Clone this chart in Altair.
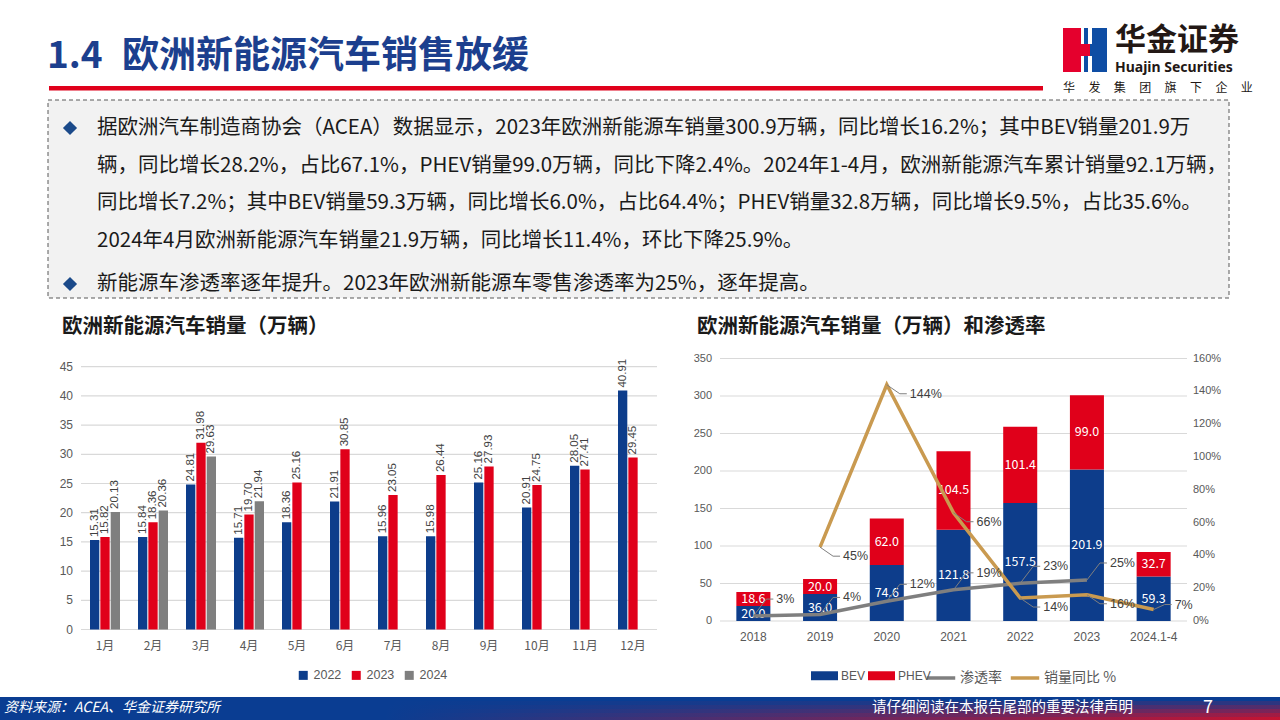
import altair as alt
import pandas as pd

FONT = "Noto Sans CJK SC"
NUMFONT = "Liberation Sans, Noto Sans CJK SC"

# ---------------- data: left chart (monthly sales, 万辆) ----------------
months = ["1月", "2月", "3月", "4月", "5月", "6月", "7月", "8月", "9月", "10月", "11月", "12月"]
sales_2022 = [15.31, 15.84, 24.81, 15.71, 18.36, 21.91, 15.96, 15.98, 25.16, 20.91, 28.05, 40.91]
sales_2023 = [15.82, 18.36, 31.98, 19.70, 25.16, 30.85, 23.05, 26.44, 27.93, 24.75, 27.41, 29.45]
sales_2024 = [20.13, 20.36, 29.63, 21.94]
series_years = ["2022", "2023", "2024"]
left_ticks = [0, 5, 10, 15, 20, 25, 30, 35, 40, 45]

# ---------------- data: right chart (annual sales + rates) ----------------
years = ["2018", "2019", "2020", "2021", "2022", "2023", "2024.1-4"]
bev = [20.0, 36.0, 74.6, 121.8, 157.5, 201.9, 59.3]
phev = [18.6, 20.0, 62.0, 104.5, 101.4, 99.0, 32.7]
pen_years = ["2018", "2019", "2020", "2021", "2022", "2023"]
penetration = [3, 4, 12, 19, 23, 25]
yoy_years = ["2019", "2020", "2021", "2022", "2023", "2024.1-4"]
yoy = [45, 144, 66, 14, 16, 7]
right_ticks = [0, 50, 100, 150, 200, 250, 300, 350]
pct_ticks = [0, 20, 40, 60, 80, 100, 120, 140, 160]

# ---------------- text ----------------
title_num = "1.4"
title_txt = "欧洲新能源汽车销售放缓"
body_lines = [
    "据欧洲汽车制造商协会（ACEA）数据显示，2023年欧洲新能源车销量300.9万辆，同比增长16.2%；其中BEV销量201.9万",
    "辆，同比增长28.2%，占比67.1%，PHEV销量99.0万辆，同比下降2.4%。2024年1-4月，欧洲新能源汽车累计销量92.1万辆，",
    "同比增长7.2%；其中BEV销量59.3万辆，同比增长6.0%，占比64.4%；PHEV销量32.8万辆，同比增长9.5%，占比35.6%。",
    "2024年4月欧洲新能源汽车销量21.9万辆，同比增长11.4%，环比下降25.9%。",
    "新能源车渗透率逐年提升。2023年欧洲新能源车零售渗透率为25%，逐年提高。",
]
left_title = "欧洲新能源汽车销量（万辆）"
right_title = "欧洲新能源汽车销量（万辆）和渗透率"
source_txt = "资料来源：ACEA、华金证券研究所"
notice_txt = "请仔细阅读在本报告尾部的重要法律声明"
page_no = "7"
slogan_chars = ["华", "发", "集", "团", "旗", "下", "企", "业"]

# ---------------- colours ----------------
BLUE = "#0D3D8B"
RED = "#E0001A"
GRAY = "#7F7F7F"
GOLD = "#C99A50"
GRID = "#D9D9D9"
AXTXT = "#595959"
TITLE_BLUE = "#1C3F8E"


def blank():
    return alt.Chart(alt.Data(values=[{"k": 0}]))


def text_at(s, x, y, size, color="#1A1A1A", weight="normal", align="left", style="normal", font=FONT):
    return blank().mark_text(
        text=s, fontSize=size, fontWeight=weight, align=align, baseline="middle",
        color=color, font=font, fontStyle=style
    ).encode(x=alt.value(x), y=alt.value(y))


def rect_at(x1, x2, y1, y2, **kw):
    return blank().mark_rect(**kw).encode(
        x=alt.value(x1), x2=alt.value(x2), y=alt.value(y1), y2=alt.value(y2)
    )


decor = []
# header
decor.append(text_at(title_num, 47, 57, 37, TITLE_BLUE, "bold"))
decor.append(text_at(title_txt, 122, 57, 37, TITLE_BLUE, "bold"))
decor.append(rect_at(49, 1043, 86, 90.5, fill="#E0001B"))
# logo
decor.append(rect_at(1063, 1081, 28, 72, fill="#E5002D"))
decor.append(rect_at(1084, 1107, 28, 72, fill="#0E4DA4"))
decor.append(rect_at(1079, 1090, 44, 56, fill="#E5002D"))
decor.append(rect_at(1088, 1092, 28, 44, fill="white"))
decor.append(rect_at(1088, 1092, 56, 72, fill="white"))
decor.append(text_at("华金证券", 1115, 41, 31, "#231815", "bold"))
decor.append(text_at("Huajin Securities", 1115, 68, 14, "#231815", "bold", font="Noto Sans"))
for i, ch in enumerate(slogan_chars):
    decor.append(text_at(ch, 1069 + 25.4 * i, 88, 12, "#231815", align="center"))
# summary box
decor.append(rect_at(48, 1229, 100, 298, fill="#F2F2F2", stroke="#595959",
                     strokeDash=[4, 3], strokeWidth=1))
line_y = [128, 166, 203, 241, 284]
for s, y in zip(body_lines, line_y):
    decor.append(text_at(s, 97, y, 20.5, "#1A1A1A"))
for y in (128, 284):
    decor.append(blank().mark_point(shape="diamond", filled=True, size=200, color="#1B4A8A",
                                     opacity=1).encode(x=alt.value(70), y=alt.value(y)))
# chart titles
decor.append(text_at(left_title, 62, 327, 20.5, "#1A1A1A", "bold"))
decor.append(text_at(right_title, 697, 327, 20.5, "#1A1A1A", "bold"))
# footer
decor.append(rect_at(0, 1280, 697, 720, fill="#0A3D92"))
strip_edges = [697, 701, 705, 709, 713, 717, 720]
strip_alpha = [0.0, 0.18, 0.38, 0.58, 0.78, 0.95]
for (y1, y2), a in zip(zip(strip_edges[:-1], strip_edges[1:]), strip_alpha):
    if a == 0:
        continue
    grad = alt.LinearGradient(
        gradient="linear", x1=0, x2=1, y1=0, y2=0,
        stops=[alt.GradientStop(color="rgba(205,18,45,0)", offset=0),
               alt.GradientStop(color="rgba(205,18,45,0)", offset=0.3),
               alt.GradientStop(color=f"rgba(205,18,45,{a})", offset=1)])
    decor.append(rect_at(0, 1280, y1, y2, color=grad))
decor.append(text_at(source_txt, 4, 708, 14, "white", style="italic"))
decor.append(text_at(notice_txt, 872, 708, 14.5, "white"))
decor.append(text_at(page_no, 1203, 708, 18, "white"))

# ---------------- left chart ----------------
left_rows = []
for yr, vals in zip(series_years, [sales_2022, sales_2023, sales_2024]):
    for m, v in zip(months, vals):
        left_rows.append({"month": m, "year": yr, "value": v})
left_df = pd.DataFrame(left_rows)

month_scale = alt.Scale(domain=months, range=[81, 657], paddingInner=0.375, paddingOuter=0.1875)
left_y = alt.Scale(domain=[0, 45], range=[629.5, 366.7], nice=False, zero=True)
off_scale = alt.Scale(domain=series_years, paddingInner=0.1, paddingOuter=0)
year_colors = alt.Scale(domain=series_years, range=[BLUE, RED, GRAY])

left_grid = alt.Chart(pd.DataFrame({"tick": left_ticks})).mark_rule(
    color=GRID, strokeWidth=1.2
).encode(
    y=alt.Y("tick:Q", scale=left_y, axis=None),
    x=alt.value(81), x2=alt.value(657),
)
left_ylabels = alt.Chart(pd.DataFrame({"tick": left_ticks})).mark_text(
    align="right", baseline="middle", fontSize=12, color=AXTXT, font=NUMFONT
).encode(
    y=alt.Y("tick:Q", scale=left_y, axis=None),
    x=alt.value(73),
    text="tick:Q",
)
left_xlabels = alt.Chart(pd.DataFrame({"month": months})).mark_text(
    align="center", baseline="middle", fontSize=12, color=AXTXT, font=FONT
).encode(
    x=alt.X("month:N", scale=month_scale, sort=None, axis=None),
    y=alt.value(646),
    text="month:N",
)

left_bars = alt.Chart(left_df).mark_bar().encode(
    x=alt.X("month:N", scale=month_scale, sort=None, axis=None),
    xOffset=alt.XOffset("year:N", scale=off_scale, sort=None),
    y=alt.Y("value:Q", scale=left_y, axis=None),
    color=alt.Color("year:N", scale=year_colors, sort=None,
                    legend=alt.Legend(orient="none", legendX=297, legendY=669, direction="horizontal",
                                      title=None, symbolType="square", symbolSize=81,
                                      symbolStrokeWidth=0, labelFont=NUMFONT, labelFontSize=12.5,
                                      labelColor=AXTXT, labelOffset=4, columnPadding=8, padding=0)),
)

left_labels = alt.Chart(left_df).mark_text(
    angle=270, align="left", baseline="middle", dx=3, fontSize=11.5, color="#404040", font=NUMFONT
).encode(
    x=alt.X("month:N", scale=month_scale, sort=None, axis=None),
    xOffset=alt.XOffset("year:N", scale=off_scale, sort=None),
    y=alt.Y("value:Q", scale=left_y, axis=None),
    text=alt.Text("value:Q", format=".2f"),
)

left_layer = alt.layer(left_grid, left_ylabels, left_xlabels, left_bars, left_labels)

# ---------------- right chart ----------------
bar_rows = []
for t, vals in (("BEV", bev), ("PHEV", phev)):
    for yv, v in zip(years, vals):
        bar_rows.append({"year": yv, "type": t, "value": v})
bar_df = pd.DataFrame(bar_rows)

line_rows = []
for yv, v in zip(pen_years, penetration):
    line_rows.append({"year": yv, "series": "渗透率", "value": v})
for yv, v in zip(yoy_years, yoy):
    line_rows.append({"year": yv, "series": "销量同比 %", "value": v})
line_df = pd.DataFrame(line_rows)

year_scale = alt.Scale(domain=years, range=[720, 1187], paddingInner=0.49, paddingOuter=0.245)
right_y = alt.Scale(domain=[0, 350], range=[621, 358.5], nice=False, zero=True)
pct_y = alt.Scale(domain=[0, 160], range=[621, 358.5], nice=False, zero=True)
type_colors = alt.Scale(domain=["BEV", "PHEV"], range=[BLUE, RED])
line_colors = alt.Scale(domain=["渗透率", "销量同比 %"], range=[GRAY, GOLD])

right_grid = alt.Chart(pd.DataFrame({"tick": right_ticks})).mark_rule(
    color=GRID, strokeWidth=1.2
).encode(
    y=alt.Y("tick:Q", scale=right_y, axis=None),
    x=alt.value(720), x2=alt.value(1187),
)
right_ylabels = alt.Chart(pd.DataFrame({"tick": right_ticks})).mark_text(
    align="right", baseline="middle", fontSize=11, color=AXTXT, font=NUMFONT
).encode(
    y=alt.Y("tick:Q", scale=right_y, axis=None),
    x=alt.value(712),
    text="tick:Q",
)
right_xlabels = alt.Chart(pd.DataFrame({"year": years})).mark_text(
    align="center", baseline="middle", fontSize=12, color=AXTXT, font=NUMFONT
).encode(
    x=alt.X("year:N", scale=year_scale, sort=None, axis=None),
    y=alt.value(637),
    text="year:N",
)

stacked = alt.Chart(bar_df).transform_stack(
    stack="value", groupby=["year"], as_=["y0", "y1"], sort=[alt.SortField("type", order="ascending")]
)

right_bars = stacked.mark_bar().encode(
    x=alt.X("year:N", scale=year_scale, sort=None, axis=None),
    y=alt.Y("y0:Q", scale=right_y, axis=None),
    y2="y1:Q",
    color=alt.Color("type:N", scale=type_colors, sort=None,
                    legend=alt.Legend(orient="none", legendX=811, legendY=662, direction="horizontal",
                                      title=None, symbolType="M-1,-0.333H1V0.333H-1Z", symbolSize=729,
                                      symbolStrokeWidth=0, labelFont=NUMFONT, labelFontSize=12,
                                      labelColor=AXTXT, labelOffset=3, columnPadding=2, padding=0)),
)

right_bar_labels = stacked.transform_calculate(
    mid="(datum.y0 + datum.y1) / 2"
).mark_text(color="white", fontSize=12.5, font=FONT, baseline="middle").encode(
    x=alt.X("year:N", scale=year_scale, sort=None, axis=None),
    y=alt.Y("mid:Q", scale=right_y, axis=None),
    text=alt.Text("value:Q", format=".1f"),
)

right_bars_layer = alt.layer(right_grid, right_ylabels, right_xlabels, right_bars, right_bar_labels)

lines = alt.Chart(line_df).mark_line(strokeWidth=3.5).encode(
    x=alt.X("year:N", scale=year_scale, sort=None, axis=None),
    y=alt.Y("value:Q", scale=pct_y, axis=None),
    stroke=alt.Stroke("series:N", scale=line_colors, sort=None,
                      legend=alt.Legend(orient="none", legendX=925, legendY=662, direction="horizontal",
                                        title=None, symbolType="stroke", symbolSize=810,
                                        symbolStrokeWidth=3.5, labelFont=FONT, labelFontSize=14,
                                        labelColor=AXTXT, labelOffset=3, columnPadding=1, padding=0)),
)
pct_labels = alt.Chart(pd.DataFrame({"tick": pct_ticks})).transform_calculate(
    lbl="datum.tick + '%'"
).mark_text(
    align="left", baseline="middle", fontSize=11, color=AXTXT, font=NUMFONT
).encode(
    y=alt.Y("tick:Q", scale=pct_y, axis=None),
    x=alt.value(1193),
    text="lbl:N",
)


def leader_and_label(filter_expr, dy, dx=23):
    base = alt.Chart(line_df).transform_filter(filter_expr)
    enc = dict(
        x=alt.X("year:N", scale=year_scale, sort=None, axis=None),
        y=alt.Y("value:Q", scale=pct_y, axis=None),
    )
    diag = base.mark_rule(color=GRAY, strokeWidth=1, x2Offset=dx - 10, y2Offset=dy).encode(
        x2="year:N", y2="value:Q", **enc)
    horiz = base.mark_rule(color=GRAY, strokeWidth=1, xOffset=dx - 10, yOffset=dy,
                           x2Offset=dx - 3, y2Offset=dy).encode(x2="year:N", y2="value:Q", **enc)
    lab = base.transform_calculate(lbl="datum.value + '%'").mark_text(
        align="left", baseline="middle", dx=dx, dy=dy, fontSize=12.5, color="#404040", font=NUMFONT
    ).encode(text="lbl:N", **enc)
    return [diag, horiz, lab]


last_yoy = yoy_years[-1]
pen_sel = alt.datum.series == "渗透率"
yoy_sel = (alt.datum.series == "销量同比 %") & (alt.datum.year != last_yoy)
yoy_last = (alt.datum.series == "销量同比 %") & (alt.datum.year == last_yoy)

lines_layer = alt.layer(pct_labels, lines,
                        *leader_and_label(pen_sel, -17),
                        *leader_and_label(yoy_sel, 9),
                        *leader_and_label(yoy_last, -5, dx=21))

chart = alt.layer(
    *decor, left_layer, right_bars_layer, lines_layer
).resolve_scale(
    x="independent", y="independent", color="independent"
).properties(
    width=1280, height=720, autosize=alt.AutoSizeParams(type="none"), padding=0
).configure(background="white").configure_view(stroke=None)

chart.save("out.html", embed_options={"renderer": "svg", "actions": False})
